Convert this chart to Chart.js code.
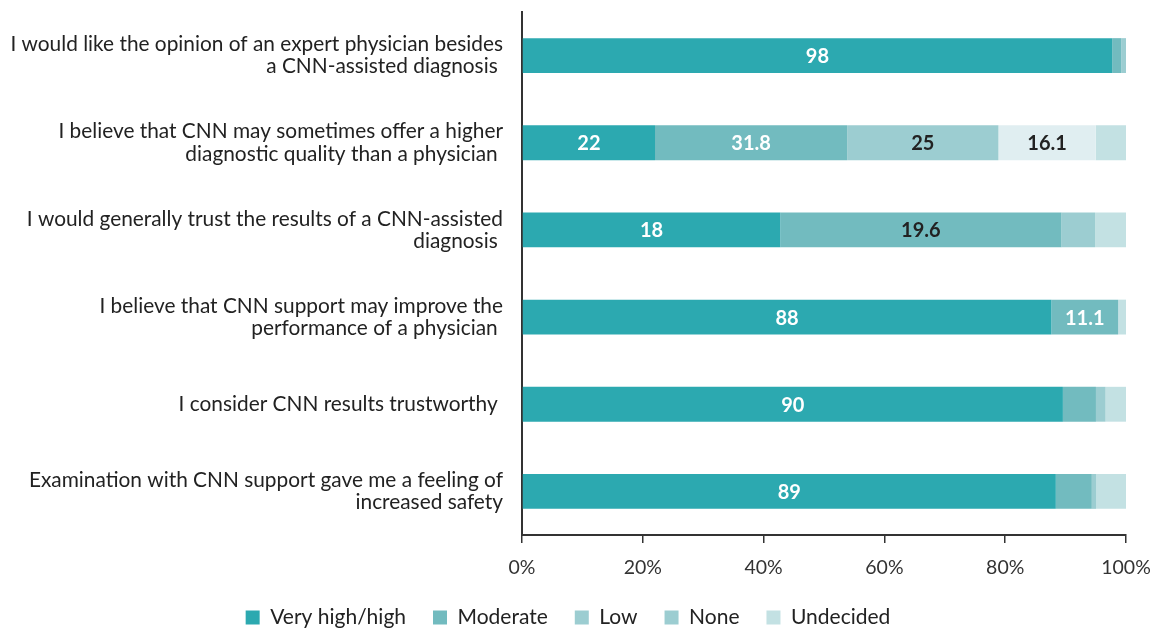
<!DOCTYPE html>
<html>
<head>
<meta charset="utf-8">
<title>CNN survey</title>
<script src="https://cdn.jsdelivr.net/npm/chart.js@4/dist/chart.umd.min.js"></script>
<style>
  html, body { margin: 0; padding: 0; background: #fff; }
  #wrap { width: 1153px; height: 628px; }
</style>
</head>
<body>
<div id="wrap"><canvas id="survey" width="1153" height="628"></canvas></div>
<script>
// statements, top to bottom
const statements = [
    ['I would like the opinion of an expert physician besides', 'a CNN-assisted diagnosis '],
    ['I believe that CNN may sometimes offer a higher', 'diagnostic quality than a physician '],
    ['I would generally trust the results of a CNN-assisted', 'diagnosis '],
    ['I believe that CNN support may improve the', 'performance of a physician '],
    'I consider CNN results trustworthy ',
    ['Examination with CNN support gave me a feeling of', 'increased safety']
];

// answers per statement (bars are normalised to 100% per row)
const veryHigh  = [98, 22, 18, 88, 90, 89];
const moderate  = [1.5, 31.8, 19.6, 11.1, 5.5, 6];
const low       = [0.8, 25, 2.35, 0, 1.6, 0.7];
const none      = [0, 16.1, 0, 0, 0, 0];
const undecided = [0, 5, 2.15, 1.3, 3.4, 5];

const xTicks = [0, 20, 40, 60, 80, 100];

const rowTotals = veryHigh.map((v, i) => v + moderate[i] + low[i] + none[i] + undecided[i]);
const toPct = arr => arr.map((v, i) => v / rowTotals[i] * 100);

// draws the numbers inside the wider segments
const barLabels = {
    id: 'barLabels',
    afterDatasetsDraw(chart) {
        const ctx = chart.ctx;
        ctx.save();
        ctx.font = 'bold 20px Lato';
        ctx.textAlign = 'center';
        ctx.textBaseline = 'middle';
        chart.data.datasets.forEach((ds, i) => {
            const meta = chart.getDatasetMeta(i);
            meta.data.forEach((bar, j) => {
                const p = bar.getProps(['x', 'y', 'base'], true);
                if (Math.abs(p.x - p.base) < 45) return;
                ctx.fillStyle = Array.isArray(ds.labelColor) ? ds.labelColor[j] : ds.labelColor;
                ctx.fillText(String(ds.raw[j]), (p.x + p.base) / 2, p.y + 1);
            });
        });
        ctx.restore();
    }
};

function makeChart() {
    Chart.defaults.font.family = 'Lato, "Noto Sans", sans-serif';
    Chart.defaults.font.size = 21;
    Chart.defaults.color = '#222';

    new Chart(document.getElementById('survey'), {
        type: 'bar',
        data: {
            labels: statements,
            datasets: [
                { label: 'Very high/high', data: toPct(veryHigh), raw: veryHigh, backgroundColor: '#2ca9b0', labelColor: '#fff' },
                { label: 'Moderate', data: toPct(moderate), raw: moderate, backgroundColor: '#72bbbf',
                  labelColor: ['#fff', '#fff', '#222', '#fff', '#fff', '#fff'] },
                { label: 'Low', data: toPct(low), raw: low, backgroundColor: '#9ccdd1', labelColor: '#222' },
                { label: 'None', data: toPct(none), raw: none, backgroundColor: '#e0eef1', legendColor: '#9ccdd1', labelColor: '#222' },
                { label: 'Undecided', data: toPct(undecided), raw: undecided, backgroundColor: '#c3e1e3', labelColor: '#222' }
            ]
        },
        options: {
            indexAxis: 'y',
            responsive: false,
            animation: false,
            datasets: {
                bar: { categoryPercentage: 1, barPercentage: 0.4, borderWidth: 0 }
            },
            layout: { padding: { top: 12, left: 10, right: 27, bottom: -10 } },
            scales: {
                x: {
                    stacked: true,
                    min: 0,
                    max: 100,
                    afterBuildTicks: axis => { axis.ticks = xTicks.map(v => ({ value: v })); },
                    afterFit: axis => { axis.height = 45; axis.paddingLeft = 0; axis.paddingRight = 0; },
                    ticks: { callback: v => v + '%', color: '#333', padding: 13, font: { size: 19.5 } },
                    grid: { display: true, drawOnChartArea: false, drawTicks: true, tickLength: 8, color: '#333', lineWidth: 1.5 },
                    border: { display: true, color: '#333', width: 2 }
                },
                y: {
                    stacked: true,
                    afterFit: axis => { axis.width = 512; axis.paddingTop = 0; axis.paddingBottom = 0; },
                    ticks: { color: '#222', padding: 19, font: { size: 20.85, lineHeight: 1.06 } },
                    grid: { display: false, drawTicks: false },
                    border: { display: true, color: '#333', width: 2 }
                }
            },
            plugins: {
                legend: {
                    position: 'bottom',
                    labels: {
                        boxWidth: 14,
                        boxHeight: 14,
                        padding: 27,
                        color: '#222',
                        font: { size: 21 },
                        generateLabels: chart => {
                            const items = Chart.defaults.plugins.legend.labels.generateLabels(chart);
                            items.forEach(item => {
                                const ds = chart.data.datasets[item.datasetIndex];
                                item.fillStyle = ds.legendColor || ds.backgroundColor;
                                item.lineWidth = 0;
                                item.strokeStyle = 'transparent';
                            });
                            return items;
                        }
                    }
                },
                tooltip: { enabled: false }
            }
        },
        plugins: [barLabels]
    });
}

Promise.all([
    document.fonts.load('21px Lato'),
    document.fonts.load('bold 20px Lato')
]).then(makeChart, makeChart);
</script>
</body>
</html>
